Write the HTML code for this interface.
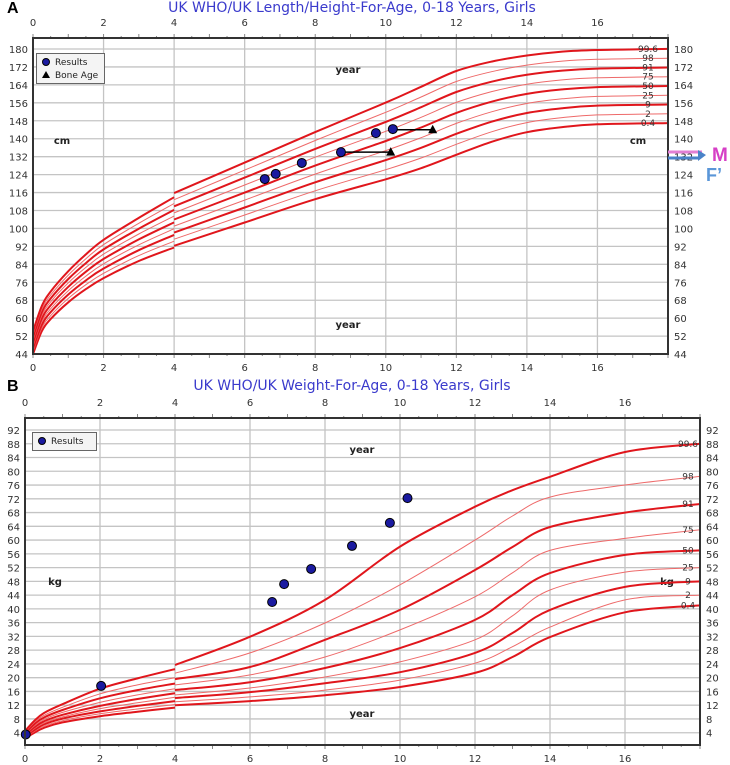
<!DOCTYPE html>
<html><head><meta charset="utf-8"><style>
html,body{margin:0;padding:0;background:#fff;}
svg{display:block;font-family:"DejaVu Sans","Liberation Sans",sans-serif;}
</style></head><body>
<svg id="chart" width="730" height="765" viewBox="0 0 730 765"></svg>
<script>
// ---------- Chart A data: height-for-age ----------
const hAgesPre = [0,0.25,0.5,1,1.5,2,3,4];
const hAgesPost = [4,6,8,10,11,12,13,14,15,16,18];
const hMedianPre = [49.1,59.8,65.7,74.0,80.7,86.4,95.1,102.7];
const hMedianPost = [104.0,116,128,139,145,151.5,156.5,160,162,163,163.5];
const hSdPre = [1.9,2.1,2.3,2.6,2.9,3.2,3.6,4.2];
const hSdPost = [4.4,5,5.6,6.4,6.8,7,6.7,6.4,6.3,6.2,6.2];
const centileNames = ["0.4","2","9","25","50","75","91","98","99.6"];
const centileZ = [-2.67,-2,-1.33,-0.67,0,0.67,1.33,2,2.67];
const hResultAges = [6.57,6.88,7.62,8.73,9.72,10.2];
const hResultValues = [122,124.3,129.2,134,142.5,144.3];
const boneAges = [10.14,11.33];
const boneValues = [134,144];
const boneFromAges = [8.73,10.2];
const hTicks = [44,52,60,68,76,84,92,100,108,116,124,132,140,148,156,164,172,180];
const ageTicks = [0,2,4,6,8,10,12,14,16];

// ---------- Chart B data: weight-for-age ----------
const wAgesPre = [0,0.25,0.5,1,2,3,4];
const wAgesPost = [4,6,8,10,12,13,14,16,18];
const w004 = [2.4,4.0,5.4,7.0,8.8,10.1,11.3, 12,13.2,14.9,17.3,21.4,26,31.8,39,41];
const w02 = [2.6,4.4,5.9,7.5,9.5,10.9,12.2, 13,14.4,16.4,19.3,24.2,29,34.7,42.6,44];
const w09 = [2.8,4.8,6.4,8.1,10.2,11.8,13.2, 14.1,15.8,18.4,21.6,27.2,33,39.7,46.4,48];
const w25 = [3.0,5.2,6.8,8.6,11,12.7,14.3, 15,17,20.2,24.6,31,38,45.5,50.7,52];
const w50 = [3.3,5.6,7.3,9.2,11.8,13.8,15.5, 16.4,18.7,22.8,28.6,36.8,44,50.4,55.7,57];
const w75 = [3.6,6.0,7.8,9.9,12.8,15,16.8, 17.9,20.8,26,33.9,43.5,50.5,57,60.5,63];
const w91 = [3.9,6.5,8.4,10.6,14,16.4,18.3, 19.6,23.1,31,39.7,51.3,58,63.8,68,70.5];
const w98 = [4.2,7.0,9.0,11.4,15.3,17.9,20, 21.3,27.2,35.9,47,60,67,72.5,76,78.5];
const w996 = [4.5,7.5,9.7,12.3,16.8,19.8,22.5, 23.7,31.9,42.6,58.1,69.7,74.5,78.4,85.6,88];
const wResultAges = [0.02,2.03,6.59,6.91,7.63,8.72,9.73,10.2];
const wResultValues = [3.5,17.6,42,47.2,51.6,58.3,65,72.2];
const wTicks = [4,8,12,16,20,24,28,32,36,40,44,48,52,56,60,64,68,72,76,80,84,88,92];

const NS = "http://www.w3.org/2000/svg";
const svg = document.getElementById('chart');
function mk(tag, attrs, parent, text){
  const e = document.createElementNS(NS, tag);
  for (const k in attrs) e.setAttribute(k, attrs[k]);
  if (text !== undefined) e.textContent = text;
  (parent || svg).appendChild(e);
  return e;
}
function spline(pts){
  let d = "M" + pts[0][0].toFixed(1) + "," + pts[0][1].toFixed(1);
  for (let i = 0; i < pts.length - 1; i++){
    const p0 = pts[Math.max(0,i-1)], p1 = pts[i], p2 = pts[i+1], p3 = pts[Math.min(pts.length-1,i+2)];
    const c1x = p1[0] + (p2[0]-p0[0])/6, c1y = p1[1] + (p2[1]-p0[1])/6;
    const c2x = p2[0] - (p3[0]-p1[0])/6, c2y = p2[1] - (p3[1]-p1[1])/6;
    d += " C" + c1x.toFixed(1) + "," + c1y.toFixed(1) + " " + c2x.toFixed(1) + "," + c2y.toFixed(1) + " " + p2[0].toFixed(1) + "," + p2[1].toFixed(1);
  }
  return d;
}

function drawFrame(cfg){
  const g = mk('g', {});
  
  
  const t = mk('text', {x: 352, y: cfg.titleY, 'text-anchor': 'middle', 'font-size': 14, fill: '#3a3acc'}, g, cfg.title);
  
  
  const pl = mk('text', {x: 7, y: cfg.titleY + 1, 'font-size': 16, 'font-weight': 'bold', fill: '#000', 'font-family': 'Liberation Sans, sans-serif'}, g, cfg.panel);
  
  
  mk('rect', {x: cfg.x0, y: cfg.top, width: cfg.x1 - cfg.x0, height: cfg.bottom - cfg.top, fill: '#fff'}, g);
  // horizontal grid
  cfg.yTicks.forEach(v => {
    const y = cfg.ys(v);
    const l = mk('line', {x1: cfg.x0, x2: cfg.x1, y1: y, y2: y, stroke: '#c4c4c4', 'stroke-width': 1.3}, g);
    
    
    const a = mk('text', {x: cfg.x0 - 5, y: y + 4, 'text-anchor': 'end', 'font-size': 10, fill: '#333'}, g, v);
    
    
    const b = mk('text', {x: cfg.x1 + 6, y: y + 4, 'text-anchor': 'start', 'font-size': 10, fill: '#333'}, g, v);
    
    
  });
  // vertical grid
  ageTicks.forEach(a => {
    const x = cfg.xs(a);
    if (a > 0) {
      const l = mk('line', {x1: x, x2: x, y1: cfg.top, y2: cfg.bottom, stroke: '#c4c4c4', 'stroke-width': 1.3}, g);
      
      
    }
    const t1 = mk('text', {x: x, y: cfg.top - 12, 'text-anchor': 'middle', 'font-size': 10, fill: '#333'}, g, a);
    
    
    const t2 = mk('text', {x: x, y: cfg.bottom + 17, 'text-anchor': 'middle', 'font-size': 10, fill: '#333'}, g, a);
    
    
  });
  // minor ticks
  for (let a = 0; a <= 18; a += 0.5) {
    const x = cfg.xs(a);
    const len = (a % 1 === 0) ? 4 : 2;
    mk('line', {x1: x, x2: x, y1: cfg.top - len, y2: cfg.top, stroke: '#888'}, g);
    mk('line', {x1: x, x2: x, y1: cfg.bottom, y2: cfg.bottom + len, stroke: '#888'}, g);
  }
  return g;
}
function drawBorder(cfg, g){
  const r = mk('rect', {x: cfg.x0, y: cfg.top, width: cfg.x1 - cfg.x0, height: cfg.bottom - cfg.top, fill: 'none', stroke: '#333', 'stroke-width': 2}, g);
  
  
}
function label(g, x, y, txt, name){
  const t = mk('text', {x: x, y: y, 'text-anchor': 'middle', 'font-size': 10, 'font-weight': 'bold', fill: '#222'}, g, txt);
  
  
}
function dot(g, x, y, name){
  const c = mk('circle', {cx: x, cy: y, r: 4.5, fill: '#1a1aa0', stroke: '#000', 'stroke-width': 1}, g);
  
  
}

// ===== Chart A =====
const A = {name: 'height-chart', panel: 'A', title: 'UK WHO/UK Length/Height-For-Age, 0-18 Years, Girls', titleY: 12,
  x0: 33, x1: 668, top: 38, bottom: 354, yTicks: hTicks};
A.xs = a => A.x0 + a * (A.x1 - A.x0) / 18;
A.ys = v => 49 + (180 - v) * 2.243;
const gA = drawFrame(A);
label(gA, 348, 73, 'year', 'x-axis-title-top');
label(gA, 348, 328, 'year', 'x-axis-title-bottom');
label(gA, 62, 144, 'cm', 'y-axis-title-left');
label(gA, 638, 144, 'cm', 'y-axis-title-right');
centileZ.forEach((z, ci) => {
  const thick = (ci % 2 === 0);
  [[hAgesPre, hMedianPre, hSdPre], [hAgesPost, hMedianPost, hSdPost]].forEach(seg => {
    const pts = seg[0].map((a, i) => [A.xs(a), A.ys(seg[1][i] + z * seg[2][i])]);
    const p = mk('path', {d: spline(pts), fill: 'none', stroke: thick ? '#e0161c' : '#ee6a6a', 'stroke-width': thick ? 2 : 1}, gA);
    
    
  });
  const last = hMedianPost.length - 1;
  const t = mk('text', {x: 648, y: A.ys(hMedianPost[last] + z * hSdPost[last]) + 3, 'text-anchor': 'middle', 'font-size': 9, fill: '#333'}, gA, centileNames[ci]);
  
  
});
boneAges.forEach((a, i) => {
  const l = mk('line', {x1: A.xs(boneFromAges[i]), y1: A.ys(boneValues[i]), x2: A.xs(a), y2: A.ys(boneValues[i]), stroke: '#000', 'stroke-width': 1.5}, gA);
  
  
  const x = A.xs(a), y = A.ys(boneValues[i]);
  const tr = mk('polygon', {points: (x) + ',' + (y - 5) + ' ' + (x - 4.5) + ',' + (y + 3.5) + ' ' + (x + 4.5) + ',' + (y + 3.5), fill: '#000'}, gA);
  
  
});
hResultAges.forEach((a, i) => dot(gA, A.xs(a), A.ys(hResultValues[i]), 'height-result-point'));
drawBorder(A, gA);
// legend A
const lgA = mk('g', {}, gA);


mk('rect', {x: 36.5, y: 53.5, width: 68, height: 30, fill: '#f4f4f4', stroke: '#666'}, lgA);
mk('circle', {cx: 46, cy: 62, r: 3.5, fill: '#1a1aa0', stroke: '#000'}, lgA);
mk('text', {x: 55, y: 65, 'font-size': 9, fill: '#222'}, lgA, 'Results');
mk('polygon', {points: '46,71 42,78 50,78', fill: '#000'}, lgA);
mk('text', {x: 55, y: 78, 'font-size': 9, fill: '#222'}, lgA, 'Bone Age');
// M / F' arrows
const arr = mk('g', {}, svg);


mk('line', {x1: 668, y1: 152, x2: 702, y2: 152, stroke: '#e27fd4', 'stroke-width': 3}, arr);
mk('line', {x1: 668, y1: 158, x2: 700, y2: 158, stroke: '#4a82c8', 'stroke-width': 3}, arr);
mk('polygon', {points: '698,150 706,155 698,161', fill: '#4a82c8'}, arr);
mk('text', {x: 712, y: 161, 'font-size': 19, 'font-weight': 'bold', fill: '#d63fc6', 'font-family': 'Liberation Sans, sans-serif'}, arr, 'M');
mk('text', {x: 706, y: 181, 'font-size': 18, 'font-weight': 'bold', fill: '#5a96d8', 'font-family': 'Liberation Sans, sans-serif'}, arr, 'F\u2019');

// ===== Chart B =====
const B = {name: 'weight-chart', panel: 'B', title: 'UK WHO/UK Weight-For-Age, 0-18 Years, Girls', titleY: 390,
  x0: 25, x1: 700, top: 418, bottom: 745, yTicks: wTicks};
B.xs = a => B.x0 + a * (B.x1 - B.x0) / 18;
B.ys = v => 430 + (92 - v) * 3.44;
const gB = drawFrame(B);
label(gB, 362, 453, 'year', 'x-axis-title-top');
label(gB, 362, 717, 'year', 'x-axis-title-bottom');
label(gB, 55, 585, 'kg', 'y-axis-title-left');
label(gB, 667, 585, 'kg', 'y-axis-title-right');
const wSeries = [w004, w02, w09, w25, w50, w75, w91, w98, w996];
wSeries.forEach((s, ci) => {
  const thick = (ci % 2 === 0);
  const pre = wAgesPre.map((a, i) => [B.xs(a), B.ys(s[i])]);
  const post = wAgesPost.map((a, i) => [B.xs(a), B.ys(s[wAgesPre.length + i])]);
  [pre, post].forEach(pts => {
    const p = mk('path', {d: spline(pts), fill: 'none', stroke: thick ? '#e0161c' : '#ee6a6a', 'stroke-width': thick ? 2 : 1}, gB);
    
    
  });
  const t = mk('text', {x: 688, y: B.ys(s[s.length - 1]) + 3, 'text-anchor': 'middle', 'font-size': 9, fill: '#333'}, gB, centileNames[ci]);
  
  
});
wResultAges.forEach((a, i) => dot(gB, B.xs(a), B.ys(wResultValues[i]), 'weight-result-point'));
drawBorder(B, gB);
const lgB = mk('g', {}, gB);


mk('rect', {x: 32.5, y: 432.5, width: 64, height: 18, fill: '#f4f4f4', stroke: '#666'}, lgB);
mk('circle', {cx: 42, cy: 441, r: 3.5, fill: '#1a1aa0', stroke: '#000'}, lgB);
mk('text', {x: 51, y: 444, 'font-size': 9, fill: '#222'}, lgB, 'Results');
</script>
</body></html>
